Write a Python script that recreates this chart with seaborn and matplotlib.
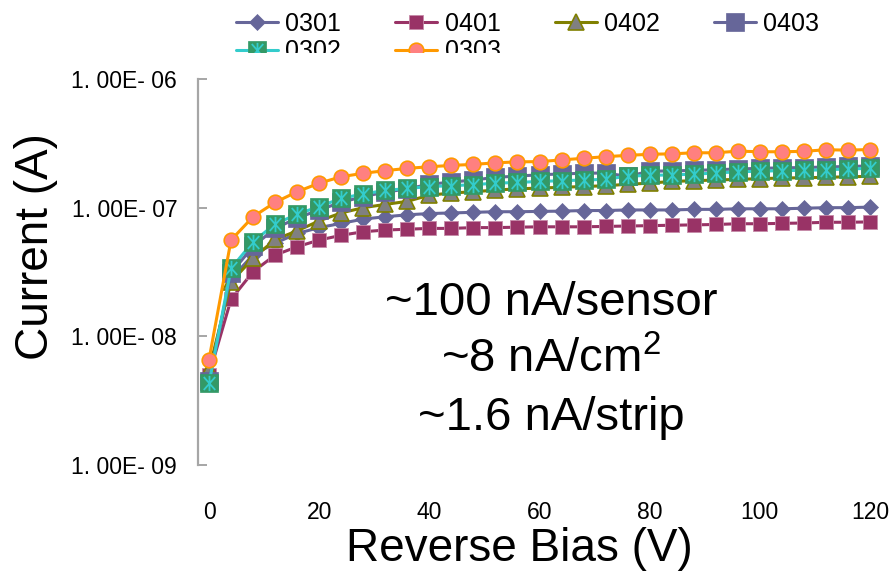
import matplotlib
matplotlib.use("Agg")
import matplotlib.pyplot as plt
import seaborn as sns
import numpy as np
from matplotlib.path import Path
from matplotlib.patches import Rectangle

# ---------------- data ----------------
bias = [0, 4, 8, 12, 16, 20, 24, 28, 32, 36, 40, 44, 48, 52, 56, 60,
        64, 68, 72, 76, 80, 84, 88, 92, 96, 100, 104, 108, 112, 116, 120]

s0301 = [5.0e-9, 2.8e-8, 4.3e-8, 5.3e-8, 6.3e-8, 7.0e-8, 7.55e-8, 8.15e-8, 8.5e-8, 8.8e-8,
         9.0e-8, 9.1e-8, 9.2e-8, 9.3e-8, 9.3e-8, 9.35e-8, 9.4e-8, 9.5e-8, 9.5e-8, 9.6e-8,
         9.6e-8, 9.6e-8, 9.7e-8, 9.7e-8, 9.8e-8, 9.8e-8, 9.8e-8, 9.9e-8, 1.0e-7, 1.0e-7, 1.01e-7]

s0401 = [5.0e-9, 1.94e-8, 3.18e-8, 4.28e-8, 4.97e-8, 5.6e-8, 6.1e-8, 6.5e-8, 6.7e-8, 6.8e-8,
         6.9e-8, 6.9e-8, 7.0e-8, 7.0e-8, 7.05e-8, 7.1e-8, 7.1e-8, 7.1e-8, 7.15e-8, 7.2e-8,
         7.25e-8, 7.3e-8, 7.35e-8, 7.4e-8, 7.5e-8, 7.5e-8, 7.55e-8, 7.6e-8, 7.7e-8, 7.7e-8, 7.75e-8]

s0402 = [5.5e-9, 2.65e-8, 4.04e-8, 5.66e-8, 6.6e-8, 7.9e-8, 9.1e-8, 1.0e-7, 1.06e-7, 1.12e-7,
         1.25e-7, 1.3e-7, 1.33e-7, 1.37e-7, 1.4e-7, 1.42e-7, 1.44e-7, 1.46e-7, 1.48e-7, 1.52e-7,
         1.55e-7, 1.6e-7, 1.62e-7, 1.64e-7, 1.66e-7, 1.68e-7, 1.7e-7, 1.71e-7, 1.72e-7, 1.74e-7, 1.75e-7]

s0403 = [4.5e-9, 3.1e-8, 5.0e-8, 6.9e-8, 8.3e-8, 9.6e-8, 1.1e-7, 1.22e-7, 1.32e-7, 1.4e-7,
         1.52e-7, 1.58e-7, 1.64e-7, 1.72e-7, 1.76e-7, 1.8e-7, 1.83e-7, 1.85e-7, 1.86e-7, 1.75e-7,
         1.92e-7, 1.93e-7, 1.95e-7, 1.97e-7, 2.0e-7, 2.02e-7, 2.04e-7, 2.05e-7, 2.07e-7, 2.09e-7, 2.11e-7]

s0302 = [4.3e-9, 3.37e-8, 5.43e-8, 7.46e-8, 8.9e-8, 1.02e-7, 1.18e-7, 1.28e-7, 1.36e-7, 1.41e-7,
         1.46e-7, 1.48e-7, 1.51e-7, 1.55e-7, 1.57e-7, 1.6e-7, 1.62e-7, 1.64e-7, 1.66e-7, 1.76e-7,
         1.78e-7, 1.8e-7, 1.82e-7, 1.86e-7, 1.9e-7, 1.92e-7, 1.94e-7, 1.95e-7, 1.97e-7, 2.0e-7, 2.02e-7]

s0303 = [6.6e-9, 5.6e-8, 8.5e-8, 1.1e-7, 1.33e-7, 1.55e-7, 1.74e-7, 1.85e-7, 1.94e-7, 2.02e-7,
         2.08e-7, 2.13e-7, 2.17e-7, 2.23e-7, 2.27e-7, 2.28e-7, 2.35e-7, 2.42e-7, 2.49e-7, 2.55e-7,
         2.6e-7, 2.62e-7, 2.67e-7, 2.67e-7, 2.75e-7, 2.72e-7, 2.72e-7, 2.74e-7, 2.82e-7, 2.8e-7, 2.83e-7]

ytick_vals = [1e-9, 1e-8, 1e-7, 1e-6]
ytick_labels = ["1. 00E- 09", "1. 00E- 08", "1. 00E- 07", "1. 00E- 06"]
xtick_vals = [0, 20, 40, 60, 80, 100, 120]
annot_lines = ["~100 nA/sensor", "~8 nA/cm$^{2}$", "~1.6 nA/strip"]

# ---------------- style ----------------
sns.set_style("white")
plt.rcParams['font.family'] = ['Liberation Sans', 'DejaVu Sans']
plt.rcParams['mathtext.fontset'] = 'custom'
plt.rcParams['mathtext.rm'] = 'Liberation Sans'
plt.rcParams['mathtext.it'] = 'Liberation Sans'
plt.rcParams['mathtext.bf'] = 'Liberation Sans'
for k in ['text.color', 'axes.labelcolor', 'xtick.color', 'ytick.color']:
    plt.rcParams[k] = 'black'

W, H = 892, 576
fig = plt.figure(figsize=(W / 100, H / 100), dpi=100)
ax = fig.add_axes([198 / W, 1 - 465 / H, 683 / W, 386 / H])
ax.set_yscale('log')

lw = 2.2
h = {}
sns.lineplot(x=bias, y=s0301, ax=ax, color='#666699', lw=lw, marker='D', markersize=8.5,
             markerfacecolor='#666699', markeredgecolor='#666699', markeredgewidth=0.5)
h['0301'] = ax.lines[-1]
sns.lineplot(x=bias, y=s0401, ax=ax, color='#993366', lw=lw, marker='s', markersize=9.5,
             markerfacecolor='#993366', markeredgecolor='#c68aa8', markeredgewidth=0.6)
h['0401'] = ax.lines[-1]
sns.lineplot(x=bias, y=s0402, ax=ax, color='#808000', lw=lw, marker='^', markersize=11,
             markerfacecolor='#808080', markeredgecolor='#808000', markeredgewidth=1.2)
h['0402'] = ax.lines[-1]
sns.lineplot(x=bias, y=s0403, ax=ax, color='#666699', lw=lw, marker='s', markersize=13.5,
             markerfacecolor='#666699', markeredgecolor='#666699', markeredgewidth=0.5)
h['0403'] = ax.lines[-1]
sns.lineplot(x=bias, y=s0302, ax=ax, color='#33CCCC', lw=lw, marker='s', markersize=13.5,
             markerfacecolor='#339966', markeredgecolor='#339966', markeredgewidth=0.5)
h0302a = ax.lines[-1]
star = Path([(0, -1), (0, 1), (-0.75, -0.85), (0.75, 0.85), (-0.75, 0.85), (0.75, -0.85)],
            [Path.MOVETO, Path.LINETO, Path.MOVETO, Path.LINETO, Path.MOVETO, Path.LINETO])
sns.lineplot(x=bias, y=s0302, ax=ax, color='#33CCCC', linestyle='', marker=star, markersize=11,
             markerfacecolor='none', markeredgecolor='#33CCCC', markeredgewidth=1.3)
h0302b = ax.lines[-1]
h['0302'] = (h0302a, h0302b)
sns.lineplot(x=bias, y=s0303, ax=ax, color='#FF9900', lw=lw, marker='o', markersize=10.5,
             markerfacecolor='#FF8080', markeredgecolor='#FF9900', markeredgewidth=1.2)
h['0303'] = ax.lines[-1]

ax.set_xlim(-2, 122)
ax.set_ylim(1e-9, 1e-6)
ax.set_yticks(ytick_vals)
ax.set_yticklabels(ytick_labels)
ax.yaxis.set_minor_locator(matplotlib.ticker.NullLocator())
ax.set_xticks(xtick_vals)
ax.set_xticklabels([str(v) for v in xtick_vals])

for s in ['top', 'right', 'bottom']:
    ax.spines[s].set_visible(False)
ax.spines['left'].set_color('#a6a6a6')
ax.spines['left'].set_linewidth(1.6)
ax.tick_params(axis='y', which='major', direction='in', length=6.5, width=1.4,
               color='#a6a6a6', labelcolor='black', labelsize=16.5, pad=15, left=True)
ax.tick_params(axis='x', length=0, labelsize=16.5, pad=26, labelcolor='black')
ax.grid(False)

ax.set_ylabel("Current (A)", fontsize=33, color='black')
ax.yaxis.set_label_coords(-0.205, 0.565)
ax.set_xlabel("Reverse Bias (V)", fontsize=33, color='black')
ax.xaxis.set_label_coords(0.47, -0.16)

for txt, yb in zip(annot_lines, [315, 372, 430]):
    fig.text(551 / W, 1 - yb / H, txt, fontsize=34, ha='center', va='baseline', color='black')

order = ['0301', '0302', '0401', '0303', '0402', '0403']
leg = fig.legend([h[k] for k in order], order, loc='upper left', ncol=4,
                 bbox_to_anchor=(236 / W, 1 - 12 / H), frameon=False, fontsize=18,
                 borderpad=0, borderaxespad=0, labelspacing=0.14, handlelength=1.67,
                 handletextpad=0.3, columnspacing=2.17, numpoints=1)
for t in leg.get_texts():
    t.set_color('black')

# the reference's legend is cut off just above the plotting area
cover = Rectangle((215 / W, 1 - 76 / H), 1, (76 - 53) / H, transform=fig.transFigure,
                  facecolor='white', edgecolor='none', zorder=20)
fig.add_artist(cover)

fig.savefig("out.png", dpi=100)
